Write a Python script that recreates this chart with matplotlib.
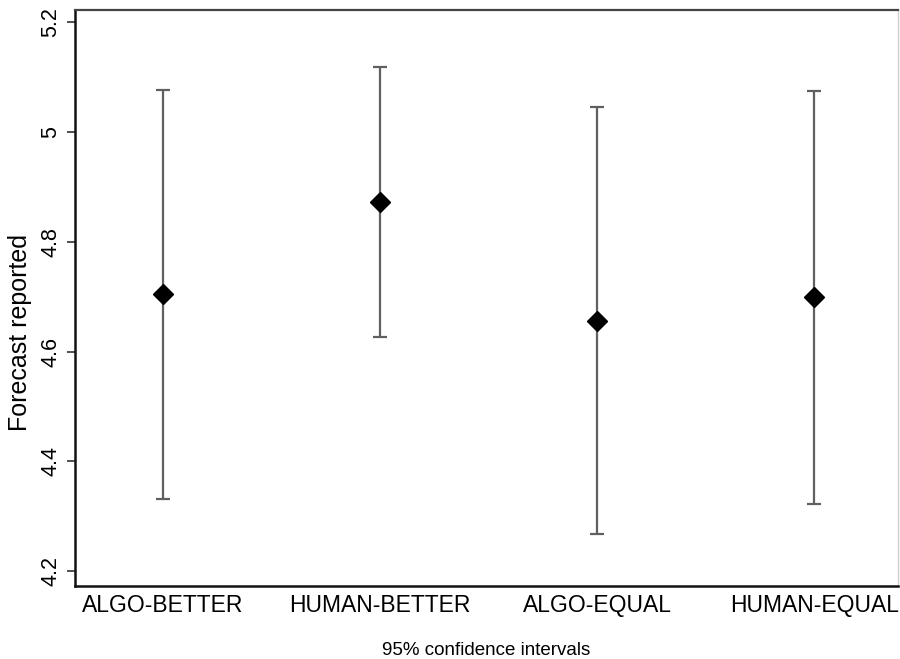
import numpy as np
import matplotlib.pyplot as plt

plt.rcParams['font.family'] = ['Liberation Sans', 'DejaVu Sans']

# Group labels and estimates
groups = ['ALGO-BETTER', 'HUMAN-BETTER', 'ALGO-EQUAL', 'HUMAN-EQUAL']
means = [4.705, 4.872, 4.656, 4.700]
ci_low = [4.332, 4.627, 4.267, 4.322]
ci_high = [5.076, 5.118, 5.046, 5.075]

x = np.arange(1, len(groups) + 1)
means_arr = np.array(means)
yerr = [means_arr - np.array(ci_low), np.array(ci_high) - means_arr]

fig = plt.figure(figsize=(9, 6.59), dpi=100)
ax = fig.add_axes([0.0833, 0.1107, 0.9147, 0.874])

ax.errorbar(x, means, yerr=yerr, fmt='none', ecolor='#606060', elinewidth=1.6,
            capsize=5, capthick=1.6, zorder=2)
ax.plot(x, means, linestyle='none', marker='D', markersize=10,
        color='black', zorder=3)

ax.set_xlim(0.594, 4.387)
ax.set_ylim(4.173, 5.222)
ax.set_xticks(x)
ax.set_xticklabels(groups, fontsize=16.5)
ax.tick_params(axis='x', length=0, pad=6)
ax.set_yticks([4.2, 4.4, 4.6, 4.8, 5.0, 5.2])
ax.set_yticklabels(['4.2', '4.4', '4.6', '4.8', '5', '5.2'], fontsize=15.5,
                   rotation=90, va='center')
ax.tick_params(axis='y', length=6, width=1.2, color='#333333', pad=4)

ax.set_ylabel('Forecast reported', fontsize=18)
ax.yaxis.set_label_coords(-0.052, 0.44)
ax.set_xlabel('95% confidence intervals', fontsize=13.5, labelpad=18)

for side in ['left', 'bottom']:
    ax.spines[side].set_linewidth(1.8)
    ax.spines[side].set_color('#111111')
ax.spines['top'].set_linewidth(1.6)
ax.spines['top'].set_color('#444444')
ax.spines['right'].set_linewidth(1.0)
ax.spines['right'].set_color('#d0d0d0')

fig.savefig('out.png', dpi=100)
